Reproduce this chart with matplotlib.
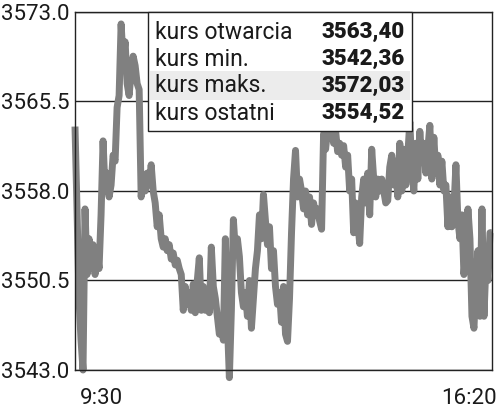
import numpy as np
import matplotlib
matplotlib.use("Agg")
import matplotlib.pyplot as plt
from matplotlib.patches import Rectangle

# notowania (co ok. 2 minuty)
kurs = [3563.4, 3556.5, 3549.0, 3545.5, 3543.0, 3556.5, 3551.0, 3554.0, 3551.5, 3553.5,
        3551.0, 3553.0, 3551.5, 3556.0, 3562.2, 3558.0, 3559.5, 3557.5, 3558.5, 3561.0,
        3560.5, 3565.0, 3566.0, 3572.0, 3569.0, 3570.5, 3567.0, 3566.0, 3568.0, 3569.3,
        3568.5, 3567.0, 3566.5, 3557.5, 3559.0, 3558.0, 3559.5, 3558.5, 3560.2, 3558.0,
        3557.0, 3555.0, 3556.0, 3554.0, 3553.3, 3554.0, 3553.0, 3553.5, 3552.3, 3552.8,
        3551.8, 3552.2, 3551.5, 3551.0, 3548.0, 3550.0, 3548.5, 3549.5, 3548.0, 3550.2,
        3547.8, 3550.5, 3552.4, 3548.0, 3550.0, 3548.0, 3549.5, 3547.8, 3553.3, 3550.0,
        3549.0, 3547.5, 3546.0, 3547.0, 3545.5, 3554.0, 3547.0, 3542.36, 3548.0, 3555.6,
        3553.0, 3554.0, 3552.5, 3549.5, 3548.3, 3549.5, 3547.5, 3550.5, 3546.5, 3549.0,
        3551.5, 3553.0, 3556.0, 3554.0, 3557.7, 3555.5, 3553.5, 3555.0, 3551.5, 3553.0,
        3550.0, 3548.5, 3549.5, 3547.0, 3550.0, 3546.0, 3545.4, 3549.0, 3554.5, 3559.0,
        3561.4, 3557.5, 3559.0, 3558.0, 3556.5, 3558.0, 3556.0, 3557.5, 3555.2, 3557.0,
        3556.0, 3556.5, 3555.5, 3554.8, 3562.8, 3561.5, 3563.2, 3562.5, 3563.0, 3562.0,
        3563.0, 3561.3, 3562.0, 3561.0, 3561.8, 3560.0, 3561.0, 3558.0, 3559.0, 3554.5,
        3557.0, 3555.5, 3553.6, 3557.5, 3559.0, 3557.0, 3559.5, 3556.0, 3561.5, 3559.0,
        3557.5, 3559.0, 3558.0, 3559.0, 3558.0, 3557.0, 3557.2, 3560.0, 3561.0, 3558.5,
        3560.5, 3557.5, 3562.0, 3558.0, 3561.5, 3558.5, 3561.0, 3563.8, 3560.0, 3558.0,
        3562.0, 3559.0, 3563.0, 3560.5, 3562.0, 3559.5, 3561.5, 3563.5, 3559.0, 3562.5,
        3559.5, 3561.0, 3558.5, 3560.5, 3558.0, 3558.5, 3555.0, 3557.5, 3555.0, 3556.5,
        3560.2, 3555.5, 3554.0, 3556.0, 3551.0, 3553.0, 3556.5, 3554.0, 3547.5, 3546.5,
        3550.5, 3553.0, 3547.5, 3556.5, 3547.5, 3552.0, 3550.5, 3554.5, 3554.52]

y_ticks = [3543.0, 3550.5, 3558.0, 3565.5, 3573.0]
x_labels = ["9:30", "16:20"]
nazwy = ["kurs otwarcia", "kurs min.", "kurs maks.", "kurs ostatni"]
wartosci = ["3563,40", "3542,36", "3572,03", "3554,52"]

plt.rcParams['font.family'] = ['Roboto', 'DejaVu Sans']

W, H = 500, 412
fig = plt.figure(figsize=(W/100, H/100), dpi=100)
L, R, T, B = 75, 492, 12, 370
ax = fig.add_axes([L/W, 1-B/H, (R-L)/W, (B-T)/H])

x = np.arange(len(kurs))
ax.plot(x, kurs, color="#808080", lw=5.0, solid_joinstyle="round",
        solid_capstyle="butt", zorder=2, clip_on=False)
ax.set_xlim(0, len(kurs)-1)
ax.set_ylim(3543.0, 3573.0)

ax.set_yticks(y_ticks)
ax.set_yticklabels(["%.1f" % v for v in y_ticks], fontsize=16, color="#1a1a1a")
ax.tick_params(axis="y", length=0, pad=4)
ax.set_xticks([])
ax.grid(axis="y", color="#222222", lw=1.0, zorder=1)
for s in ax.spines.values():
    s.set_color("#222222")
    s.set_linewidth(1.0)

fig.text(80/W, 1-398/H, x_labels[0], fontsize=16, ha="left", va="center", color="#1a1a1a")
fig.text(497/W, 1-398/H, x_labels[1], fontsize=16, ha="right", va="center", color="#1a1a1a")

# ramka z podsumowaniem
def fx(px):
    return (px-L)/(R-L)

def fy(py):
    return (B-py)/(B-T)

ax.add_patch(Rectangle((fx(148), fy(131)), fx(412)-fx(148), fy(12)-fy(131),
                       transform=ax.transAxes, facecolor="white", edgecolor="#222222",
                       lw=1.0, zorder=5, clip_on=False))
ax.add_patch(Rectangle((fx(150), fy(100)), fx(410)-fx(150), fy(71)-fy(100),
                       transform=ax.transAxes, facecolor="#ececec", edgecolor="none",
                       zorder=6, clip_on=False))
rows = [32, 59, 86, 113]
for py, n, v in zip(rows, nazwy, wartosci):
    ax.text(fx(155), fy(py), n, transform=ax.transAxes, fontsize=16.5,
            ha="left", va="center", color="#1a1a1a", zorder=7)
    ax.text(fx(405), fy(py), v, transform=ax.transAxes, fontsize=16, fontweight="heavy",
            ha="right", va="center", color="#1a1a1a", zorder=7)

fig.savefig("out.png", dpi=100)
